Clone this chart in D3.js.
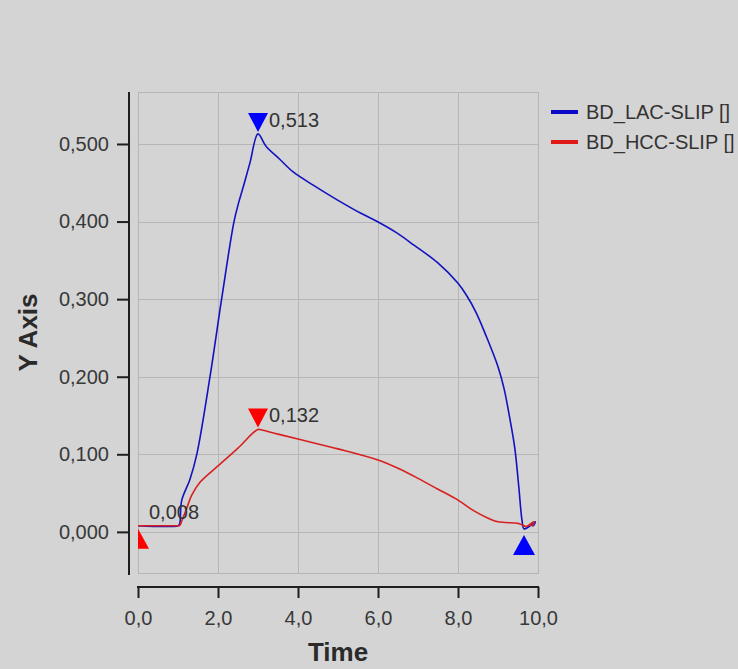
<!DOCTYPE html>
<html>
<head>
<meta charset="utf-8">
<script src="https://cdn.jsdelivr.net/npm/d3@7"></script>
<style>
  body { margin: 0; background: #d4d4d4; }
  svg { display: block; font-family: 'Liberation Sans', Arial, sans-serif; }
</style>
</head>
<body>
<div id="chart"></div>
<script>
// series
const lacTime = [0, 1.0, 1.04, 1.09, 1.3, 1.47, 1.8, 2.09, 2.4, 2.52, 2.65, 2.8, 3.0, 3.2, 3.55, 3.88, 4.38, 4.98, 5.56, 5.98, 6.45, 6.89, 7.49, 7.99, 8.2, 8.45, 8.7, 9.0, 9.15, 9.3, 9.42, 9.52, 9.6, 9.65, 9.75, 9.85, 9.93, 9.88, 9.8];
const lacSlip = [0.008, 0.008, 0.01, 0.04, 0.068, 0.1, 0.2, 0.3, 0.4, 0.425, 0.448, 0.476, 0.513, 0.497, 0.48, 0.464, 0.447, 0.428, 0.411, 0.4, 0.386, 0.37, 0.347, 0.321, 0.306, 0.283, 0.253, 0.213, 0.185, 0.145, 0.108, 0.058, 0.015, 0.004, 0.006, 0.01, 0.013, 0.008, 0.01];

const hccTime = [0, 1.0, 1.04, 1.1, 1.2, 1.35, 1.55, 2.0, 2.5, 3.0, 3.12, 3.5, 4.05, 5.0, 5.98, 6.5, 7.0, 7.5, 8.0, 8.4, 8.74, 9.0, 9.5, 9.6, 9.7, 9.8, 9.9, 9.86, 9.78];
const hccSlip = [0.008, 0.008, 0.008, 0.015, 0.028, 0.048, 0.064, 0.085, 0.108, 0.132, 0.131, 0.126, 0.119, 0.107, 0.093, 0.082, 0.069, 0.055, 0.041, 0.027, 0.018, 0.013, 0.011, 0.009, 0.007, 0.01, 0.013, 0.008, 0.01];

const seriesNames = ['BD_LAC-SLIP []', 'BD_HCC-SLIP []'];

// max / min markers
const markerSeries = [0, 1, 1, 0];
const markerTime = [3.0, 3.0, 0, 9.65];
const markerValue = [0.513, 0.132, 0.008, 0.0];
const markerDir = ['down', 'down', 'up', 'up'];
const markerLabel = ['0,513', '0,132', '0,008', ''];

const xTicks = [0, 2, 4, 6, 8, 10];
const yTicks = [0, 0.1, 0.2, 0.3, 0.4, 0.5];
const xDomain = [0, 10];
const yDomain = [-0.053, 0.567];

const lineColors = ['#1212c0', '#d82020'];
const markColors = ['#0000ff', '#ff0000'];
const legendColors = ['#0a0ac8', '#e01818'];

const locale = d3.formatLocale({ decimal: ',', thousands: '.', grouping: [3], currency: ['', ''] });

const margin = { top: 92, right: 200, bottom: 96, left: 138 };
const W = 738, H = 669;
const width = W - margin.left - margin.right;
const height = H - margin.top - margin.bottom;

const svg = d3.select('#chart').append('svg')
    .attr('width', W)
    .attr('height', H);

svg.append('rect').attr('width', W).attr('height', H).attr('fill', '#d4d4d4');

const g = svg.append('g').attr('transform', 'translate(' + margin.left + ',' + margin.top + ')');

const x = d3.scaleLinear().domain(xDomain).range([0, width]);
const y = d3.scaleLinear().domain(yDomain).range([height, 0]);

// grid
g.selectAll('.vgrid')
    .data(xTicks)
    .enter().append('line')
    .attr('x1', d => Math.round(x(d)) + 0.5).attr('x2', d => Math.round(x(d)) + 0.5)
    .attr('y1', 0).attr('y2', height)
    .attr('stroke', '#b6b6b6');

g.selectAll('.hgrid')
    .data(yTicks)
    .enter().append('line')
    .attr('x1', 0).attr('x2', width)
    .attr('y1', d => Math.round(y(d)) + 0.5).attr('y2', d => Math.round(y(d)) + 0.5)
    .attr('stroke', '#b6b6b6');

g.append('rect')
    .attr('x', 0.5).attr('y', 0.5)
    .attr('width', width).attr('height', height)
    .attr('fill', 'none')
    .attr('stroke', '#b6b6b6');

// axes
const yAxis = g.append('g')
    .attr('class', 'y-axis')
    .attr('transform', 'translate(-9,0)')
    .call(d3.axisLeft(y).tickValues(yTicks).tickSize(12).tickSizeOuter(0).tickPadding(8).tickFormat(locale.format('.3f')));

const xAxis = g.append('g')
    .attr('class', 'x-axis')
    .attr('transform', 'translate(0,' + (height + 14) + ')')
    .call(d3.axisBottom(x).tickValues(xTicks).tickSize(11).tickSizeOuter(0).tickPadding(13).tickFormat(locale.format('.1f')));

[yAxis, xAxis].forEach(a => {
    a.attr('font-family', null).attr('font-size', null);
    a.select('.domain').attr('stroke', '#1e1e1e').attr('stroke-width', 2);
    a.selectAll('.tick line').attr('stroke', '#1e1e1e').attr('stroke-width', 2);
    a.selectAll('.tick text').attr('fill', '#383838').style('font-size', '20px');
});
yAxis.select('.domain').attr('d', 'M0,0V' + (height + 2));
xAxis.select('.domain').attr('d', 'M-1,0H' + (width + 1));

// axis titles
g.append('text')
    .attr('x', width / 2)
    .attr('y', height + 88)
    .attr('text-anchor', 'middle')
    .attr('fill', '#2a2a2a')
    .style('font-size', '26px')
    .style('font-weight', 'bold')
    .text('Time');

g.append('text')
    .attr('transform', 'translate(' + (37 - margin.left) + ',' + (height / 2) + ') rotate(-90)')
    .attr('text-anchor', 'middle')
    .attr('fill', '#2a2a2a')
    .style('font-size', '26px')
    .style('font-weight', 'bold')
    .text('Y Axis');

// lines
g.append('clipPath').attr('id', 'plot-clip')
    .append('rect').attr('width', width + 1).attr('height', height + 1);

const plot = g.append('g').attr('clip-path', 'url(#plot-clip)');

const line = d3.line()
    .curve(d3.curveCatmullRom.alpha(0.5))
    .x(d => x(d[0]))
    .y(d => y(d[1]));

const series = [d3.zip(lacTime, lacSlip), d3.zip(hccTime, hccSlip)];

series.forEach((s, i) => {
    plot.append('path')
        .datum(s)
        .attr('fill', 'none')
        .attr('stroke', lineColors[i])
        .attr('stroke-width', 1.6)
        .attr('stroke-linejoin', 'round')
        .attr('d', line);
});

// markers
const markers = d3.range(markerTime.length).map(i => ({
    s: markerSeries[i], t: markerTime[i], v: markerValue[i], dir: markerDir[i], label: markerLabel[i]
}));

plot.selectAll('.marker')
    .data(markers)
    .enter().append('path')
    .attr('fill', d => markColors[d.s])
    .attr('d', d => {
        const px = x(d.t), py = y(d.v);
        if (d.dir === 'down') {
            return 'M' + (px - 10) + ',' + (py - 21) + 'L' + (px + 10) + ',' + (py - 21) + 'L' + px + ',' + (py - 2) + 'Z';
        }
        return 'M' + (px - 11) + ',' + (py + 23) + 'L' + (px + 11) + ',' + (py + 23) + 'L' + px + ',' + (py + 3) + 'Z';
    });

plot.selectAll('.marker-label')
    .data(markers.filter(d => d.label))
    .enter().append('text')
    .attr('x', d => x(d.t) + 11)
    .attr('y', d => y(d.v) - 7)
    .attr('fill', '#333')
    .style('font-size', '20px')
    .text(d => d.label);

// legend
const legend = svg.append('g').attr('transform', 'translate(551,112)');
seriesNames.forEach((name, i) => {
    legend.append('line')
        .attr('x1', 0).attr('x2', 27)
        .attr('y1', i * 30).attr('y2', i * 30)
        .attr('stroke', legendColors[i])
        .attr('stroke-width', 4);
    legend.append('text')
        .attr('x', 35)
        .attr('y', i * 30)
        .attr('dy', '0.35em')
        .attr('fill', '#333')
        .style('font-size', '20px')
        .text(name);
});
</script>
</body>
</html>
